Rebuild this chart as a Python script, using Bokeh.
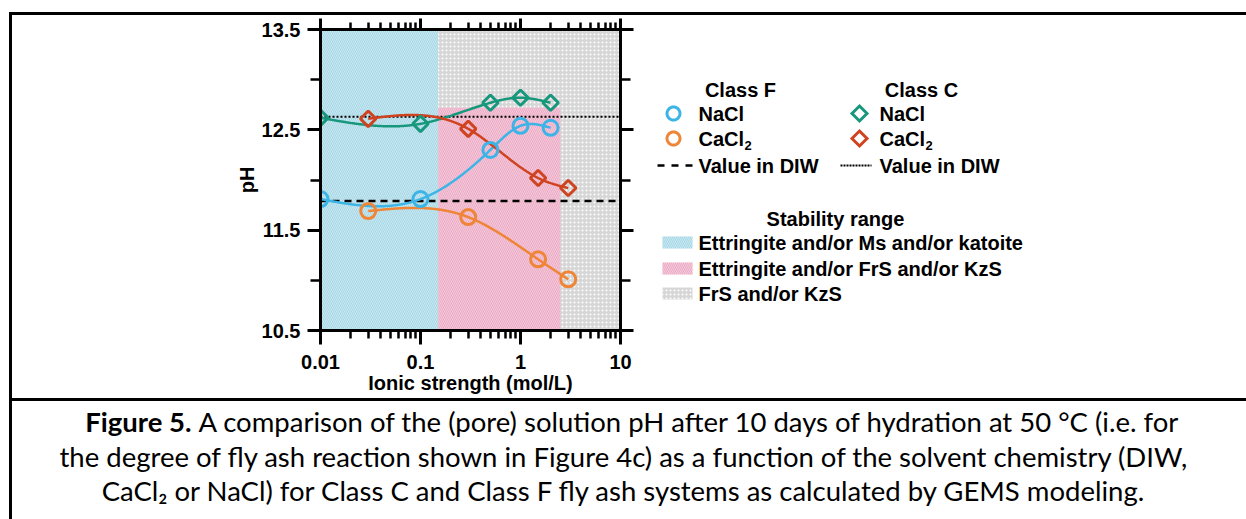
import numpy as np
from bokeh.plotting import figure
from bokeh.models import (Range1d, FixedTicker, LogAxis, LinearAxis, CustomJSTickFormatter,
                          LinearScale)
from bokeh.embed import file_html
from bokeh.resources import INLINE
from bokeh.core.properties import value

# ---------------- data ----------------
f_nacl_x = [0.01, 0.1, 0.5, 1.0, 2.0]
f_nacl_ph = [11.81, 11.81, 12.30, 12.54, 12.52]
f_cacl2_x = [0.03, 0.3, 1.5, 3.0]
f_cacl2_ph = [11.69, 11.63, 11.21, 11.01]
c_nacl_x = [0.01, 0.1, 0.5, 1.0, 2.0]
c_nacl_ph = [12.62, 12.56, 12.77, 12.82, 12.77]
c_cacl2_x = [0.03, 0.3, 1.5, 3.0]
c_cacl2_ph = [12.61, 12.51, 12.02, 11.92]
f_diw_ph = 11.79
c_diw_ph = 12.63

region_labels = ["Ettringite and/or Ms and/or katoite", "FrS and/or KzS", "Ettringite and/or FrS and/or KzS"]
region_x0 = [0.01, 0.15, 0.15]
region_x1 = [0.15, 10.0, 2.5]
region_y0 = [10.5, 10.5, 10.5]
region_y1 = [13.5, 13.5, 12.72]

x_major_ticks = [0.01, 0.1, 1, 10]
x_minor_ticks = [m * 10.0 ** e for e in (-2, -1, 0) for m in range(2, 10)]
y_major_ticks = [10.5, 11.5, 12.5, 13.5]
y_minor_ticks = [11.0, 12.0, 13.0]

x_label = "Ionic strength (mol/L)"
y_label = "pH"

caption_bold = "Figure 5."
caption_lines = [
    "A comparison of the (pore) solution pH after 10 days of hydration at 50 °C (i.e. for",
    "the degree of fly ash reaction shown in Figure 4c) as a function of the solvent chemistry (DIW,",
    "CaCl₂ or NaCl) for Class C and Class F fly ash systems as calculated by GEMS modeling.",
]

# ---------------- styles ----------------
BLUE = "#3cb4e6"
ORANGE = "#ef8536"
GREEN = "#17977c"
RED = "#cf4320"
FONTNAME = "Liberation Sans"
FONT = value(FONTNAME)
FS = "20px"
region_fill = ["#c6e8f1", "#d6d6d6", "#f5c7d9"]
region_hatch = ["left_diagonal_line", "dot", "left_diagonal_line"]
region_hatch_color = ["#a9d7e5", "#ffffff", "#e9adc6"]


def smooth(xs, ys, n=300):
    """natural cubic spline through the points, in log10(x)"""
    x = np.log10(np.asarray(xs, float))
    y = np.asarray(ys, float)
    k = len(x)
    h = np.diff(x)
    A = np.zeros((k, k))
    b = np.zeros(k)
    A[0, 0] = A[-1, -1] = 1.0
    for i in range(1, k - 1):
        A[i, i - 1] = h[i - 1]
        A[i, i] = 2 * (h[i - 1] + h[i])
        A[i, i + 1] = h[i]
        b[i] = 3 * ((y[i + 1] - y[i]) / h[i] - (y[i] - y[i - 1]) / h[i - 1])
    c = np.linalg.solve(A, b)
    bc = (y[1:] - y[:-1]) / h - h * (2 * c[:-1] + c[1:]) / 3
    d = (c[1:] - c[:-1]) / (3 * h)
    xx = np.linspace(x[0], x[-1], n)
    idx = np.clip(np.searchsorted(x, xx) - 1, 0, k - 2)
    dx = xx - x[idx]
    yy = y[idx] + bc[idx] * dx + c[idx] * dx ** 2 + d[idx] * dx ** 3
    return 10 ** xx, yy


# ---------------- figure: frame = chart area ----------------
W, H = 1246, 519
FL, FR, FT, FB = 320, 620, 29, 330   # frame edges in page pixels
p = figure(width=W, height=H, x_axis_type="log",
           x_range=Range1d(0.01, 10), y_range=Range1d(10.5, 13.5),
           output_backend="svg", toolbar_location=None,
           min_border_left=FL, min_border_right=W - FR,
           min_border_top=FT, min_border_bottom=H - FB)
p.grid.visible = False
p.outline_line_color = None
p.background_fill_color = "white"
p.border_fill_color = "white"
# page-pixel coordinate system for decorations outside the frame
p.extra_x_ranges = {"px": Range1d(FL, FR)}
p.extra_y_ranges = {"py": Range1d(FB, FT)}
p.extra_x_scales = {"px": LinearScale()}
p.extra_y_scales = {"py": LinearScale()}
PX = dict(x_range_name="px", y_range_name="py", level="overlay")

for i in range(len(region_labels)):
    p.quad(left=region_x0[i], right=region_x1[i], bottom=region_y0[i], top=region_y1[i],
           fill_color=region_fill[i], line_color=None,
           hatch_pattern=region_hatch[i], hatch_color=region_hatch_color[i],
           hatch_scale=4, hatch_weight=1)

p.line([0.01, 10], [f_diw_ph, f_diw_ph], line_color="black", line_width=2.5, line_dash="7 5")
p.line([0.01, 10], [c_diw_ph, c_diw_ph], line_color="black", line_width=2, line_dash="2 2")

for xs, ys, col in [(f_nacl_x, f_nacl_ph, BLUE), (f_cacl2_x, f_cacl2_ph, ORANGE),
                    (c_nacl_x, c_nacl_ph, GREEN), (c_cacl2_x, c_cacl2_ph, RED)]:
    sx, sy = smooth(xs, ys)
    p.line(sx, sy, line_color=col, line_width=2.5)

p.scatter(f_nacl_x, f_nacl_ph, marker="circle", size=15, line_color=BLUE, line_width=3, fill_alpha=0)
p.scatter(f_cacl2_x, f_cacl2_ph, marker="circle", size=15, line_color=ORANGE, line_width=3, fill_alpha=0)
p.scatter(c_nacl_x, c_nacl_ph, marker="square", angle=np.pi / 4, size=11, line_color=GREEN, line_width=3, fill_alpha=0)
p.scatter(c_cacl2_x, c_cacl2_ph, marker="square", angle=np.pi / 4, size=11, line_color=RED, line_width=3, fill_alpha=0)


def style_axis(ax, major_out, minor_out, labels=True):
    ax.axis_line_width = 3
    ax.axis_line_color = "black"
    ax.axis_line_cap = "square"
    ax.major_tick_in = 0
    ax.minor_tick_in = 0
    ax.major_tick_out = major_out
    ax.minor_tick_out = minor_out
    ax.major_tick_line_width = 3
    ax.minor_tick_line_width = 2.5
    ax.major_tick_line_color = "black"
    ax.minor_tick_line_color = "black"
    if labels:
        ax.major_label_text_font = FONTNAME
        ax.major_label_text_font_style = "bold"
        ax.major_label_text_font_size = FS
        ax.major_label_text_color = "black"
        ax.axis_label_text_font = FONTNAME
        ax.axis_label_text_font_style = "bold"
        ax.axis_label_text_font_size = FS
        ax.axis_label_text_color = "black"
    else:
        ax.major_label_text_font_size = "0px"
        ax.major_label_standoff = 0
        ax.major_label_text_alpha = 0


bx = p.xaxis[0]
bx.ticker = FixedTicker(ticks=x_major_ticks, minor_ticks=x_minor_ticks)
bx.formatter = CustomJSTickFormatter(code="return tick.toString();")
style_axis(bx, 14, 8)
bx.major_label_standoff = 10
bx.axis_label = x_label
bx.axis_label_standoff = 0

ly = p.yaxis[0]
ly.ticker = FixedTicker(ticks=y_major_ticks, minor_ticks=y_minor_ticks)
ly.formatter = CustomJSTickFormatter(code="return tick.toFixed(1);")
style_axis(ly, 13, 10)
ly.major_label_standoff = 7
ly.axis_label = y_label
ly.axis_label_standoff = 1

tx = LogAxis(ticker=FixedTicker(ticks=x_major_ticks, minor_ticks=x_minor_ticks))
style_axis(tx, 11, 7, labels=False)
p.add_layout(tx, "above")

ry = LinearAxis(ticker=FixedTicker(ticks=y_major_ticks, minor_ticks=y_minor_ticks))
style_axis(ry, 13, 10, labels=False)
p.add_layout(ry, "right")

# ---------------- legend (page-pixel coordinates) ----------------
def ring_icon(cx, cy, r, n=40):
    t = np.linspace(0, 2 * np.pi, n + 1)
    return list(cx + r * np.cos(t)), list(cy + r * np.sin(t))


def diamond_icon(cx, cy, r):
    return [cx, cx + r, cx, cx - r, cx, cx + r], [cy - r, cy, cy + r, cy, cy - r, cy]


tkw = dict(text_font=FONT, text_font_style="bold", text_font_size=FS, text_color="black",
           text_baseline="middle")
p.text(x=[740, 921], y=[89, 89], text=["Class F", "Class C"], text_align="center", **tkw, **PX)
for (cx, cy, col) in [(673, 113, BLUE), (673, 138, ORANGE)]:
    ix, iy = ring_icon(cx, cy, 6.5)
    p.line(ix, iy, line_color=col, line_width=3, line_join="round", **PX)
for (cx, cy, col) in [(859, 113, GREEN), (859, 138, RED)]:
    ix, iy = diamond_icon(cx, cy, 7.5)
    p.line(ix, iy, line_color=col, line_width=3, line_join="miter", **PX)
p.line([657, 694], [165, 165], line_color="black", line_width=2.5, line_dash="7 7", **PX)
p.line([840, 871], [165, 165], line_color="black", line_width=2, line_dash="2 1", **PX)
p.text(x=[698, 698, 698, 879, 879, 879], y=[113, 138, 165, 113, 138, 165],
       text=["NaCl", "CaCl", "Value in DIW", "NaCl", "CaCl", "Value in DIW"],
       text_align="left", **tkw, **PX)
p.text(x=[744, 925], y=[145, 145], text=["2", "2"], text_align="left",
       text_font=FONT, text_font_style="bold", text_font_size="13px", text_baseline="middle", **PX)
p.text(x=[835], y=[218], text=["Stability range"], text_align="center", **tkw, **PX)
leg_order = [0, 2, 1]
leg_y = [242, 268, 293]
for j, i in enumerate(leg_order):
    p.quad(left=662, right=692, top=leg_y[j] - 6, bottom=leg_y[j] + 6,
           fill_color=region_fill[i], line_color=None,
           hatch_pattern=region_hatch[i], hatch_color=region_hatch_color[i],
           hatch_scale=4, hatch_weight=1, **PX)
    p.text(x=[698], y=[leg_y[j]], text=[region_labels[i]], text_align="left", **tkw, **PX)

# ---------------- box lines ----------------
p.segment(x0=[8.5, 10, 8.5], y0=[13, 11.5, 399], x1=[1246, 10, 1246], y1=[13, 519, 399],
          line_color="black", line_width=3, **PX)

# ---------------- caption ----------------
CFONT = value("Lato")
CFS = "27.5px"
p.text(x=[191], y=[421], text=[caption_bold], text_align="right", text_baseline="middle",
       text_font=CFONT, text_font_style="bold", text_font_size=CFS, text_color="black", **PX)
p.text(x=[198], y=[421], text=[caption_lines[0]], text_align="left", text_baseline="middle",
       text_font=CFONT, text_font_size=CFS, text_color="black", **PX)
p.text(x=[624, 624], y=[456, 490], text=caption_lines[1:], text_align="center", text_baseline="middle",
       text_font=CFONT, text_font_size=CFS, text_color="black", **PX)

open("out.html", "w").write(file_html(p, INLINE))
